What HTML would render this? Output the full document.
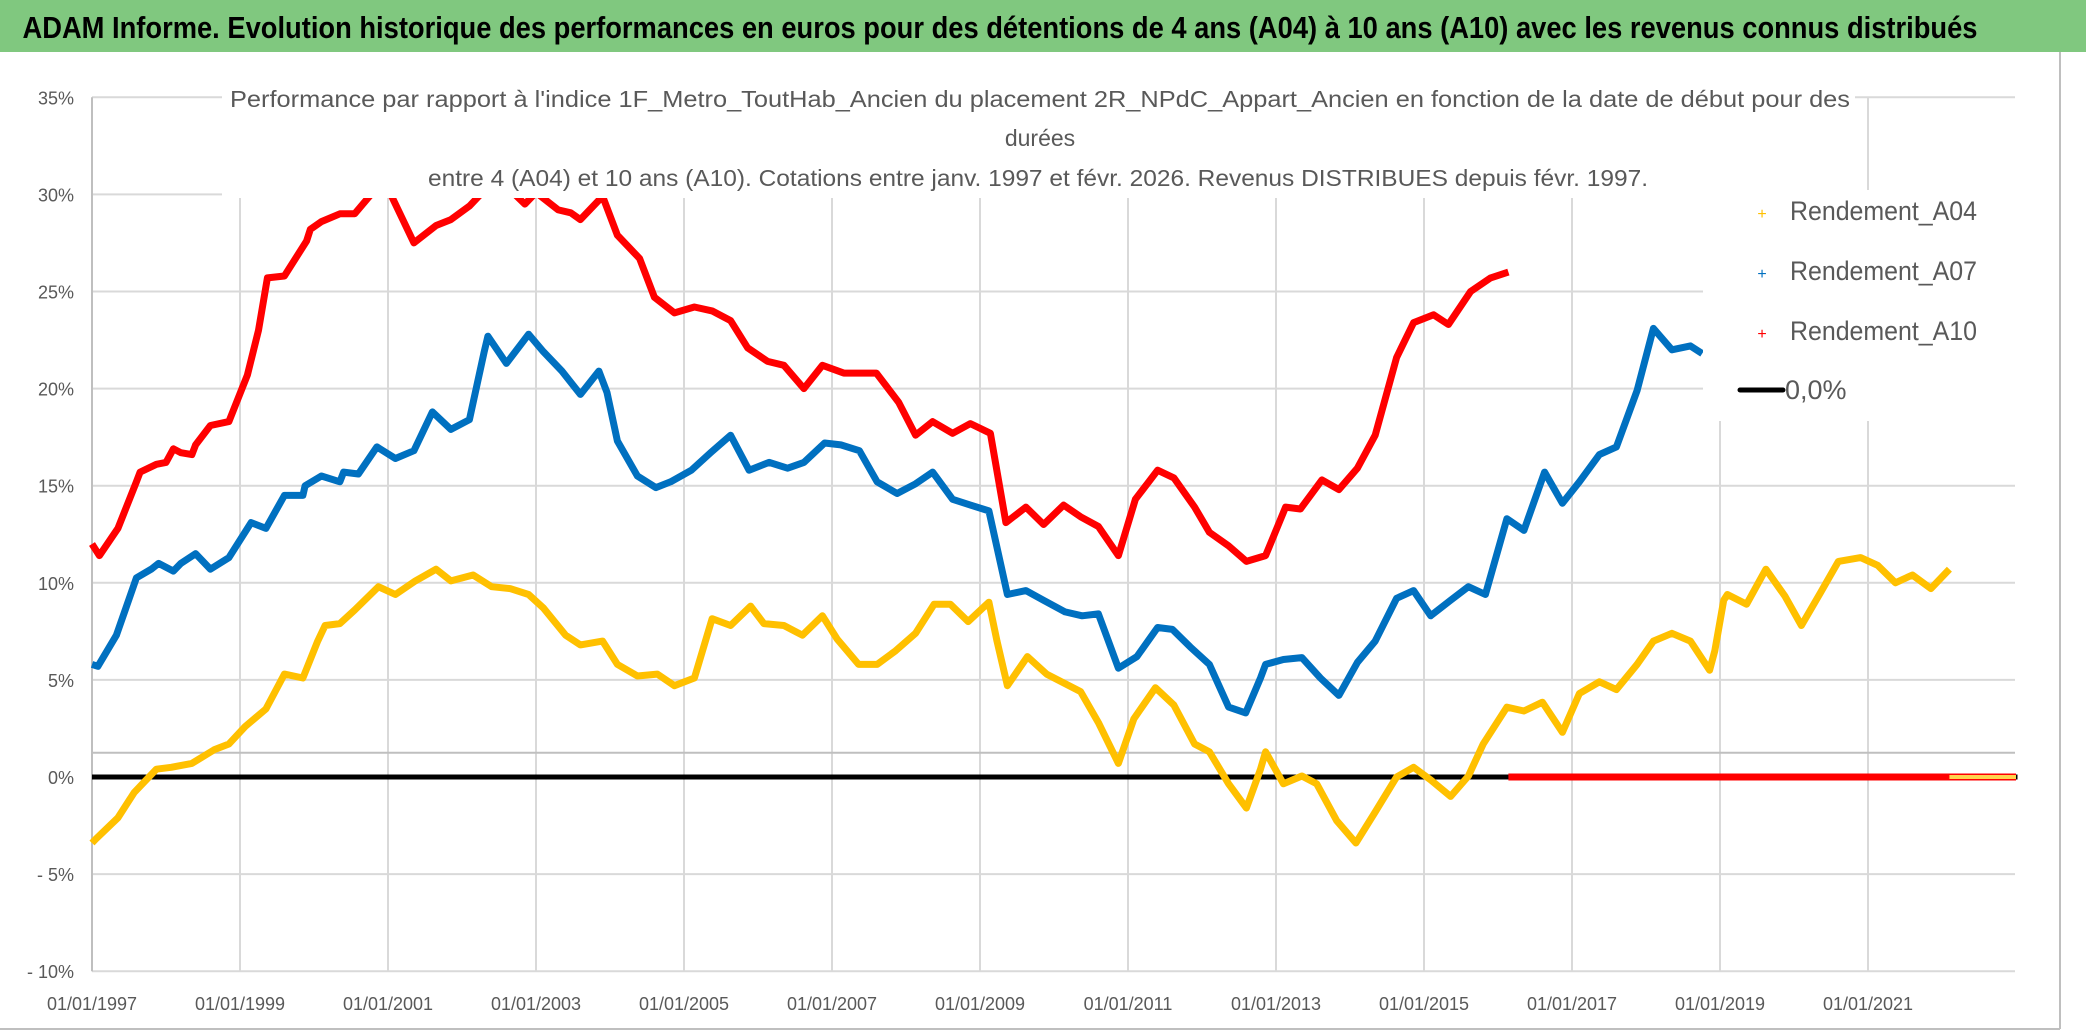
<!DOCTYPE html>
<html><head><meta charset="utf-8">
<style>
html,body{margin:0;padding:0;background:#fff;}
svg{display:block;font-family:"Liberation Sans",sans-serif;}
</style></head>
<body>
<svg id="chart" width="2086" height="1031" viewBox="0 0 2086 1031" xmlns="http://www.w3.org/2000/svg">
  <rect x="0" y="0" width="2086" height="1031" fill="#fff"/>
  <rect x="0" y="0" width="2086" height="52" fill="#80c87f"/>
  <text x="1000" y="38" font-size="31" font-weight="bold" fill="#000" text-anchor="middle" textLength="1955" lengthAdjust="spacingAndGlyphs">ADAM Informe. Evolution historique des performances en euros pour des détentions de 4 ans (A04) à 10 ans (A10) avec les revenus connus distribués</text>
  <line x1="2060" y1="52" x2="2060" y2="1029" stroke="#bfbfbf" stroke-width="2"/>
  <line x1="0" y1="1029" x2="2060" y2="1029" stroke="#bfbfbf" stroke-width="2"/>
  <g id="grid"></g>
  <g id="series"></g>
  <g id="axes"></g>
  <rect x="222" y="86" width="1633" height="112" fill="#fff"/>
  <text x="1040" y="107" font-size="23" fill="#595959" text-anchor="middle" textLength="1620" lengthAdjust="spacingAndGlyphs">Performance par rapport à l'indice 1F_Metro_ToutHab_Ancien  du placement 2R_NPdC_Appart_Ancien en fonction de la date de début pour des</text>
  <text x="1040" y="146" font-size="23" fill="#595959" text-anchor="middle">durées</text>
  <text x="1038" y="186" font-size="23" fill="#595959" text-anchor="middle" textLength="1220" lengthAdjust="spacingAndGlyphs">entre 4 (A04) et 10 ans (A10). Cotations entre janv. 1997 et févr. 2026. Revenus DISTRIBUES depuis févr. 1997.</text>
  <g>
    <rect x="1703" y="190" width="312" height="231" fill="#fff"/>
    <g>
      <text x="1762" y="219" font-size="16" fill="#ffc000" text-anchor="middle">+</text>
      <text x="1790" y="220" font-size="27" fill="#595959" textLength="187" lengthAdjust="spacingAndGlyphs">Rendement_A04</text>
    </g>
    <g>
      <text x="1762" y="279" font-size="16" fill="#0070c0" text-anchor="middle">+</text>
      <text x="1790" y="280" font-size="27" fill="#595959" textLength="187" lengthAdjust="spacingAndGlyphs">Rendement_A07</text>
    </g>
    <g>
      <text x="1762" y="339" font-size="16" fill="#ff0000" text-anchor="middle">+</text>
      <text x="1790" y="340" font-size="27" fill="#595959" textLength="187" lengthAdjust="spacingAndGlyphs">Rendement_A10</text>
    </g>
    <g>
      <line x1="1740" y1="390" x2="1783" y2="390" stroke="#000" stroke-width="5" stroke-linecap="round"/>
      <text x="1785" y="399" font-size="27" fill="#595959">0,0%</text>
    </g>
  </g>
</svg>
<script>
const yTicks = [35, 30, 25, 20, 15, 10, 5, 0, -5, -10];
const yTickLabels = ["35%", "30%", "25%", "20%", "15%", "10%", "5%", "0%", "- 5%", "- 10%"];
const xTicks = [1997, 1999, 2001, 2003, 2005, 2007, 2009, 2011, 2013, 2015, 2017, 2019, 2021];
const xTickLabels = ["01/01/1997","01/01/1999","01/01/2001","01/01/2003","01/01/2005","01/01/2007","01/01/2009","01/01/2011","01/01/2013","01/01/2015","01/01/2017","01/01/2019","01/01/2021"];
const refLineValue = 1.25;

const a10Years = [1997.0,1997.1,1997.35,1997.6,1997.65,1997.87,1998.0,1998.1,1998.2,1998.35,1998.4,1998.6,1998.85,1999.1,1999.25,1999.37,1999.6,1999.9,1999.95,2000.1,2000.35,2000.55,2000.75,2000.9,2001.0,2001.35,2001.65,2001.85,2002.1,2002.3,2002.55,2002.85,2003.0,2003.3,2003.47,2003.6,2003.9,2004.1,2004.4,2004.6,2004.87,2005.14,2005.38,2005.63,2005.86,2006.13,2006.35,2006.62,2006.87,2007.16,2007.6,2007.9,2008.13,2008.36,2008.63,2008.87,2009.14,2009.35,2009.62,2009.86,2010.13,2010.36,2010.6,2010.87,2011.1,2011.4,2011.62,2011.9,2012.1,2012.36,2012.6,2012.86,2013.13,2013.33,2013.62,2013.85,2014.1,2014.34,2014.63,2014.86,2015.13,2015.33,2015.63,2015.9,2016.14];
const a10Values = [12.0,11.4,12.8,15.2,15.7,16.1,16.2,16.9,16.7,16.6,17.1,18.1,18.3,20.7,23.0,25.7,25.8,27.6,28.2,28.6,29.0,29.0,29.9,30.6,30.3,27.5,28.4,28.7,29.4,30.2,30.6,29.5,30.1,29.2,29.05,28.7,29.9,27.9,26.7,24.7,23.9,24.2,24.0,23.5,22.1,21.4,21.2,20.0,21.2,20.8,20.8,19.3,17.6,18.3,17.7,18.2,17.7,13.1,13.9,13.0,14.0,13.4,12.9,11.4,14.3,15.8,15.4,13.9,12.6,11.9,11.1,11.4,13.9,13.8,15.3,14.8,15.9,17.6,21.6,23.4,23.8,23.3,25.0,25.7,26.0];
const a10ZeroYears = [2016.14, 2023.0];
const a10ZeroValues = [0, 0];

const a07Years = [1997.0,1997.08,1997.33,1997.6,1997.8,1997.9,1998.1,1998.2,1998.4,1998.6,1998.85,1999.15,1999.35,1999.6,1999.85,1999.88,2000.1,2000.35,2000.4,2000.6,2000.85,2001.1,2001.35,2001.6,2001.85,2002.1,2002.3,2002.35,2002.6,2002.9,2003.1,2003.35,2003.6,2003.85,2003.96,2004.1,2004.37,2004.62,2004.82,2005.1,2005.36,2005.63,2005.88,2006.15,2006.4,2006.62,2006.9,2007.12,2007.37,2007.61,2007.88,2008.13,2008.36,2008.63,2008.87,2009.12,2009.37,2009.62,2009.86,2010.15,2010.38,2010.6,2010.87,2011.12,2011.4,2011.6,2011.84,2012.1,2012.36,2012.59,2012.79,2012.86,2013.1,2013.35,2013.6,2013.85,2014.1,2014.34,2014.63,2014.86,2015.09,2015.36,2015.6,2015.83,2016.12,2016.35,2016.63,2016.87,2017.1,2017.37,2017.6,2017.88,2018.1,2018.35,2018.6,2018.76];
const a07Values = [5.8,5.7,7.3,10.25,10.7,11.0,10.6,11.0,11.5,10.7,11.3,13.1,12.8,14.5,14.5,15.0,15.5,15.2,15.7,15.6,17.0,16.4,16.8,18.8,17.9,18.4,21.9,22.7,21.3,22.8,21.9,20.9,19.7,20.9,19.8,17.3,15.5,14.9,15.2,15.8,16.7,17.6,15.8,16.2,15.9,16.2,17.2,17.1,16.8,15.2,14.6,15.1,15.7,14.3,14.0,13.7,9.4,9.6,9.1,8.5,8.3,8.4,5.6,6.2,7.7,7.6,6.7,5.8,3.6,3.3,5.1,5.8,6.05,6.15,5.1,4.2,5.9,7.0,9.2,9.6,8.3,9.1,9.8,9.4,13.3,12.7,15.7,14.1,15.2,16.6,17.0,19.9,23.1,22.0,22.2,21.8];

const a04Years = [1997.0,1997.05,1997.35,1997.57,1997.87,1998.07,1998.35,1998.65,1998.85,1999.07,1999.35,1999.6,1999.85,2000.05,2000.15,2000.35,2000.55,2000.87,2001.1,2001.37,2001.65,2001.85,2002.15,2002.4,2002.65,2002.9,2003.1,2003.4,2003.6,2003.9,2004.1,2004.37,2004.64,2004.87,2005.14,2005.38,2005.63,2005.9,2006.08,2006.35,2006.6,2006.87,2007.07,2007.36,2007.61,2007.86,2008.13,2008.38,2008.6,2008.84,2009.12,2009.23,2009.37,2009.64,2009.9,2010.36,2010.6,2010.87,2011.08,2011.37,2011.62,2011.9,2012.1,2012.36,2012.6,2012.79,2012.86,2013.1,2013.35,2013.55,2013.82,2014.08,2014.34,2014.63,2014.86,2015.09,2015.36,2015.6,2015.8,2016.12,2016.35,2016.6,2016.87,2017.1,2017.37,2017.6,2017.88,2018.1,2018.35,2018.6,2018.86,2018.93,2019.05,2019.1,2019.36,2019.62,2019.88,2020.1,2020.36,2020.6,2020.9,2021.13,2021.37,2021.6,2021.85,2022.1];
const a04Values = [-3.4,-3.2,-2.1,-0.8,0.4,0.5,0.7,1.4,1.7,2.6,3.5,5.3,5.1,7.0,7.8,7.9,8.6,9.8,9.4,10.1,10.7,10.1,10.4,9.8,9.7,9.4,8.7,7.3,6.8,7.0,5.8,5.2,5.3,4.7,5.1,8.15,7.8,8.8,7.9,7.8,7.3,8.3,7.1,5.8,5.8,6.5,7.4,8.9,8.9,8.0,9.0,7.0,4.7,6.2,5.3,4.4,2.8,0.7,3.0,4.6,3.7,1.7,1.3,-0.35,-1.6,0.4,1.3,-0.35,0.05,-0.35,-2.25,-3.4,-1.8,0.0,0.5,-0.15,-1.0,0.05,1.7,3.6,3.4,3.85,2.3,4.3,4.9,4.5,5.8,7.0,7.4,7.0,5.5,6.5,9.1,9.4,8.9,10.7,9.3,7.8,9.5,11.1,11.3,10.9,10.0,10.4,9.7,10.7];
const a04ZeroYears = [2022.1, 2023.0];
const a04ZeroValues = [0, 0];

const zeroYears = [1997.0, 2023.02];
const zeroValues = [0, 0];

const NS = "http://www.w3.org/2000/svg";
const PL = 92, PR = 2015, Y0 = 777, YPER = 19.42, XPER = 74;
function xs(year){ return PL + (year - 1997) * XPER; }
function ys(v){ return Y0 - v * YPER; }

const grid = document.getElementById('grid');
const axes = document.getElementById('axes');
const seriesG = document.getElementById('series');

yTicks.forEach(function(t, i){
  const l = document.createElementNS(NS, 'line');
  l.setAttribute('x1', PL); l.setAttribute('x2', PR);
  l.setAttribute('y1', ys(t)); l.setAttribute('y2', ys(t));
  l.setAttribute('stroke', '#d9d9d9'); l.setAttribute('stroke-width', '2');
  
  
  grid.appendChild(l);
  const tx = document.createElementNS(NS, 'text');
  tx.setAttribute('x', 74); tx.setAttribute('y', ys(t) + 7);
  tx.setAttribute('text-anchor', 'end'); tx.setAttribute('font-size', '18');
  tx.setAttribute('fill', '#595959');
  tx.textContent = yTickLabels[i];
  
  
  axes.appendChild(tx);
});
xTicks.forEach(function(t, i){
  const l = document.createElementNS(NS, 'line');
  l.setAttribute('x1', xs(t)); l.setAttribute('x2', xs(t));
  l.setAttribute('y1', ys(35)); l.setAttribute('y2', ys(-10));
  l.setAttribute('stroke', i === 0 ? '#bfbfbf' : '#d9d9d9'); l.setAttribute('stroke-width', '2');
  
  
  grid.appendChild(l);
  const tx = document.createElementNS(NS, 'text');
  tx.setAttribute('x', xs(t)); tx.setAttribute('y', 1010);
  tx.setAttribute('text-anchor', 'middle'); tx.setAttribute('font-size', '18');
  tx.setAttribute('fill', '#595959');
  tx.textContent = xTickLabels[i];
  
  
  axes.appendChild(tx);
});
const ref = document.createElementNS(NS, 'line');
ref.setAttribute('x1', PL); ref.setAttribute('x2', PR);
ref.setAttribute('y1', ys(refLineValue)); ref.setAttribute('y2', ys(refLineValue));
ref.setAttribute('stroke', '#bfbfbf'); ref.setAttribute('stroke-width', '2');


grid.appendChild(ref);

function drawLine(years, vals, color, width, name){
  const p = document.createElementNS(NS, 'polyline');
  p.setAttribute('points', years.map(function(y, i){ return xs(y).toFixed(1) + ',' + ys(vals[i]).toFixed(1); }).join(' '));
  p.setAttribute('fill', 'none'); p.setAttribute('stroke', color);
  p.setAttribute('stroke-width', width); p.setAttribute('stroke-linejoin', 'round');
  
  
  seriesG.appendChild(p);
}
drawLine(zeroYears, zeroValues, '#000', 5, 'zero-line');
drawLine(a04Years, a04Values, '#ffc000', 7, 'series-a04');
drawLine(a07Years, a07Values, '#0070c0', 7, 'series-a07');
drawLine(a10Years, a10Values, '#ff0000', 7, 'series-a10');
drawLine(a10ZeroYears, a10ZeroValues, '#ff0000', 7, 'series-a10-zero');
drawLine(a04ZeroYears, a04ZeroValues, '#ffd34d', 4, 'series-a04-zero');
</script>
</body></html>
